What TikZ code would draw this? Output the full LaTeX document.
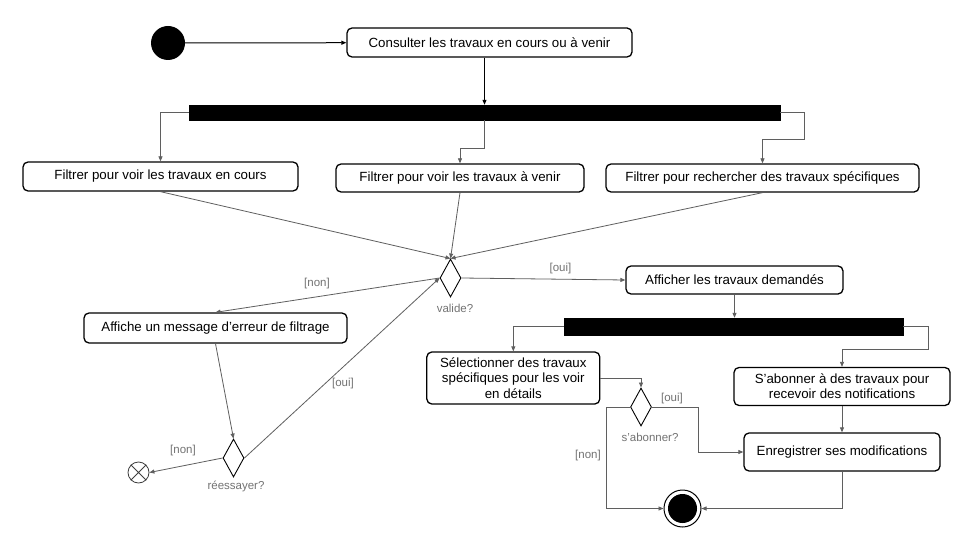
\documentclass[tikz,border=0pt]{standalone}
\usepackage{fontspec}
\setmainfont{Liberation Sans}
\usetikzlibrary{shapes.geometric,arrows.meta,calc}
\definecolor{linegray}{RGB}{95,95,95}
\definecolor{labelgray}{RGB}{115,115,115}
\begin{document}
\begin{tikzpicture}[x=1pt,y=-1pt,
  act/.style={draw=black, line width=1.3pt, rounded corners=5pt, fill=white, inner sep=2pt,
    font=\fontsize{13.3}{15.5}\selectfont, align=center},
  barnode/.style={fill=black, draw=black, inner sep=0pt},
  dec/.style={diamond, draw=black, line width=0.9pt, inner sep=0pt, minimum width=21pt, minimum height=38pt},
  flow/.style={draw=linegray, line width=0.8pt, -{Triangle[length=5pt,width=4pt]}},
  mainflow/.style={draw=black, line width=1pt, -{Triangle[length=5pt,width=4pt]}},
  lbl/.style={text=labelgray, font=\fontsize{11.5}{14}\selectfont, inner sep=0pt},
]
\useasboundingbox[fill=white] (0,0) rectangle (960,540);

% nodes
\node[circle, fill=black, minimum size=34pt, inner sep=0pt] (start) at (168,43) {};
\node[act, minimum width=285pt, minimum height=29pt] (consult) at (489.5,42.5) {Consulter les travaux en cours ou à venir};
\node[barnode, minimum width=591pt, minimum height=15pt] (bar1) at (484.5,112.5) {};
\node[act, minimum width=275pt, minimum height=29pt] (f1) at (160.5,176.5) {Filtrer pour voir les travaux en cours};
\node[act, minimum width=248pt, minimum height=28pt] (f2) at (460,178) {Filtrer pour voir les travaux à venir};
\node[act, minimum width=313pt, minimum height=28pt] (f3) at (762.5,178) {Filtrer pour rechercher des travaux spécifiques};
\node[dec] (valide) at (450.5,278) {};
\node[lbl] (lvalide) at (455,308) {valide?};
\node[act, minimum width=217pt, minimum height=28pt] (afficher) at (734.5,280) {Afficher les travaux demandés};
\node[act, minimum width=263pt, minimum height=30pt] (erreur) at (215.5,328) {Affiche un message d’erreur de filtrage};
\node[dec] (reess) at (233.5,458) {};
\node[lbl] (lreess) at (236,486) {réessayer?};
\node[circle, draw=black!75, line width=0.8pt, minimum size=21pt, inner sep=0pt] (cross) at (138.5,472.5) {};
\draw[black!75, line width=0.8pt] (cross.north west) -- (cross.south east) (cross.north east) -- (cross.south west);
\node[barnode, minimum width=339pt, minimum height=17pt] (bar2) at (733.5,326.5) {};
\node[act, minimum width=173pt, minimum height=52pt] (sel) at (513.3,378) {Sélectionner des travaux\\spécifiques pour les voir\\en détails};
\node[act, minimum width=216pt, minimum height=38pt, font=\fontsize{13.3}{15}\selectfont] (abon) at (842,386.5) {S’abonner à des travaux pour\\recevoir des notifications};
\node[dec] (sab) at (641,407) {};
\node[lbl] (lsab) at (650,437) {s’abonner?};
\node[act, minimum width=196pt, minimum height=38pt] (enreg) at (842,452) {Enregistrer ses modifications};
\node[circle, draw=black, line width=1pt, minimum size=37pt, inner sep=0pt] (end) at (682.5,508.5) {};
\fill[black] (end.center) circle (14.5);

% connectors
\draw[mainflow] (start) -- (consult);
\draw[mainflow] (consult.south -| bar1.north) -- (bar1.north);
\draw[flow] (bar1.west) -| (f1.north);
\draw[flow] (bar1.south) -- ++(0,28) -| (f2.north);
\draw[flow] (bar1.east) -- ++(24,0) |- ($(f3.north)+(0,-24)$) -- (f3.north);
\draw[flow] (f1.south) -- (valide.north);
\draw[flow] (f2.south) -- (valide.north);
\draw[flow] (f3.south) -- (valide.north);
\draw[flow] (valide.east) -- (afficher.west);
\draw[flow] (valide.west) -- (erreur.north);
\draw[flow] (erreur.south) -- (reess.north);
\draw[flow] (reess.west) -- (cross.east);
\draw[flow] (reess.east) -- (valide.west);
\draw[flow] (afficher.south) -- (afficher.south |- bar2.north);
\draw[flow] (bar2.west) -| (sel.north);
\draw[flow] (bar2.east) -- ++(25,0) |- ($(abon.north)+(0,-17)$) -- (abon.north);
\draw[flow] (sel.east) -| (sab.north);
\draw[flow] (sab.east) -- ++(46,0) |- (enreg.west);
\draw[flow] (sab.west) -- ++(-24,0) |- (end.west);
\draw[flow] (abon.south) -- (enreg.north);
\draw[flow] (enreg.south) |- (end.east);

% guard labels
\node[lbl] (g1) at (560.5,269) {[oui]};
\node[lbl] (g2) at (317,284) {[non]};
\node[lbl] (g3) at (183,451) {[non]};
\node[lbl] (g4) at (343,384) {[oui]};
\node[lbl] (g5) at (672,399) {[oui]};
\node[lbl] (g6) at (588,456) {[non]};
\end{tikzpicture}
\end{document}
